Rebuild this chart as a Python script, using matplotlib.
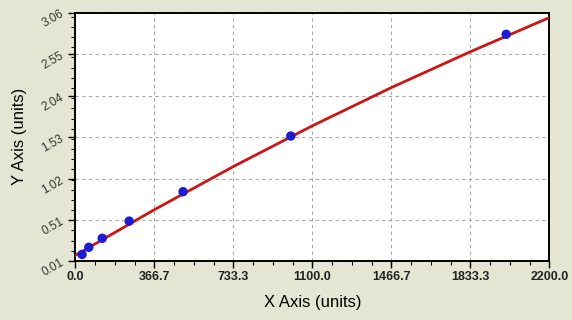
import matplotlib
matplotlib.use("Agg")
import matplotlib.pyplot as plt
from matplotlib.ticker import AutoMinorLocator

# Data
std_x = [31.25, 62.5, 125, 250, 500, 1000, 2000]
std_y = [0.09, 0.178, 0.289, 0.50, 0.861, 1.545, 2.795]

curve_x = [0, 366.7, 733.3, 1100.0, 1466.7, 1833.3, 2200.0]
curve_y = [0.08, 0.64, 1.17, 1.67, 2.14, 2.58, 3.00]

xticks = [0, 366.7, 733.3, 1100.0, 1466.7, 1833.3, 2200.0]
xtick_labels = ["0.0", "366.7", "733.3", "1100.0", "1466.7", "1833.3", "2200.0"]
yticks = [0.01, 0.51, 1.02, 1.53, 2.04, 2.55, 3.06]
ytick_labels = ["0.01", "0.51", "1.02", "1.53", "2.04", "2.55", "3.06"]

plt.rcParams['font.family'] = ['Liberation Sans', 'DejaVu Sans']

bg = '#e4e5d3'
fig = plt.figure(figsize=(5.72, 3.2), dpi=100, facecolor=bg)
ax = fig.add_axes([0.1317, 0.1844, 0.9603 - 0.1317, 0.9603 - 0.1844])
ax.set_facecolor('white')

ax.set_xlim(0, 2200)
ax.set_ylim(0.01, 3.06)

ax.grid(True, which='major', linestyle=(0, (3, 3)), color='#a8a8a8', linewidth=0.8)
ax.set_axisbelow(True)

ax.plot(curve_x, curve_y, color='#cc1515', linewidth=2.0, zorder=3)
ax.scatter(std_x, std_y, s=46, color='#1c1cd0', zorder=4, edgecolors='none')

ax.set_xticks(xticks)
ax.set_xticklabels(xtick_labels, fontsize=9, fontweight='bold', color='#222222')
ax.set_yticks(yticks)
ax.set_yticklabels(ytick_labels, fontsize=8.5, rotation=30, color='#333333')
ax.xaxis.set_minor_locator(AutoMinorLocator(4))
ax.yaxis.set_minor_locator(AutoMinorLocator(4))
ax.tick_params(which='major', direction='out', length=5, width=1, color='black', pad=2)
ax.tick_params(which='minor', direction='out', length=3, width=0.8, color='black')

for s in ax.spines.values():
    s.set_color('black')
    s.set_linewidth(1.4)

ax.set_xlabel('X Axis (units)', fontsize=12, labelpad=9)
ax.set_ylabel('Y Axis (units)', fontsize=12, labelpad=9)

fig.savefig('out.png', dpi=100, facecolor=bg)
